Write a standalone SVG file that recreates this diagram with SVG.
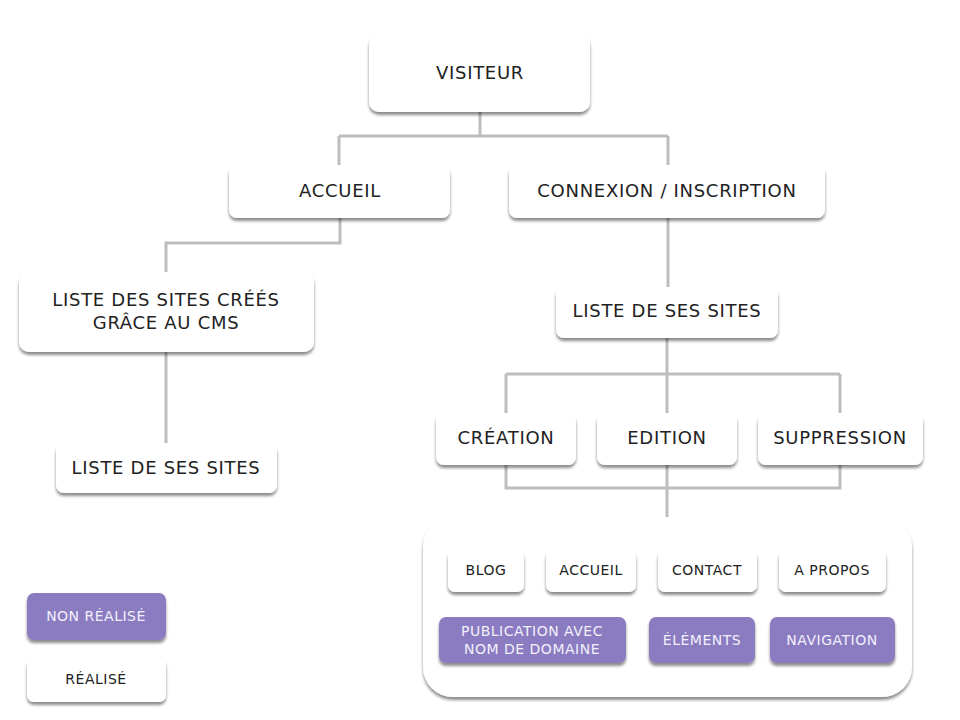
<svg xmlns="http://www.w3.org/2000/svg" width="960" height="720" viewBox="0 0 960 720">
<defs>
<filter id="sh" x="-20%" y="-20%" width="140%" height="160%">
<feDropShadow dx="0" dy="3" stdDeviation="1.8" flood-color="#000" flood-opacity="0.45"/>
</filter>
<style>
.n{fill:#fff;filter:url(#sh)}
.p{fill:#8B7BC2;filter:url(#sh)}
.t{font-family:"DejaVu Sans","Liberation Sans",sans-serif;font-size:18px;letter-spacing:0.7px;fill:#222;text-anchor:middle;dominant-baseline:central}
.s{font-family:"DejaVu Sans","Liberation Sans",sans-serif;font-size:14px;letter-spacing:0.5px;fill:#222;text-anchor:middle;dominant-baseline:central}
.w{fill:#F2F0FA}
.c{fill:none;stroke:#BDBDBD;stroke-width:3}
</style>
</defs>
<rect width="960" height="720" fill="#fff"/>
<g id="connectors" class="c">
<path d="M480 112V136M339 136H668M339 136V165M668 136V165"/>
<path d="M340 218V243H166V272"/>
<path d="M166 352V443"/>
<path d="M668 218V287"/>
<path d="M667 338V413M506 374H840M506 374V413M840 374V413"/>
<path d="M506 465V488H840V465M667 465V517"/>
</g>
<g id="visiteur"><rect class="n" x="369" y="34" width="221" height="78" rx="10"/><text class="t" x="480" y="72">VISITEUR</text></g>
<g id="accueil"><rect class="n" x="229" y="165" width="221" height="53" rx="8"/><text class="t" x="340" y="190">ACCUEIL</text></g>
<g id="connexion"><rect class="n" x="509" y="165" width="316" height="53" rx="8"/><text class="t" x="667" y="190">CONNEXION / INSCRIPTION</text></g>
<g id="liste-cms"><rect class="n" x="19" y="272" width="295" height="80" rx="10"/><text class="t" x="166" y="299">LISTE DES SITES CRÉÉS</text><text class="t" x="166" y="322">GRÂCE AU CMS</text></g>
<g id="liste-sites-left"><rect class="n" x="56" y="443" width="221" height="50" rx="8"/><text class="t" x="166" y="467">LISTE DE SES SITES</text></g>
<g id="liste-sites-right"><rect class="n" x="556" y="287" width="222" height="51" rx="8"/><text class="t" x="667" y="310">LISTE DE SES SITES</text></g>
<g id="creation"><rect class="n" x="436" y="413" width="140" height="52" rx="8"/><text class="t" x="506" y="437">CRÉATION</text></g>
<g id="edition"><rect class="n" x="597" y="413" width="140" height="52" rx="8"/><text class="t" x="667" y="437">EDITION</text></g>
<g id="suppression"><rect class="n" x="758" y="413" width="165" height="52" rx="8"/><text class="t" x="840" y="437">SUPPRESSION</text></g>
<g id="pages">
<rect class="n" x="423" y="517" width="489" height="180" rx="30"/>
<g id="blog"><rect class="n" x="448" y="550" width="76" height="42" rx="7"/><text class="s" x="486" y="570">BLOG</text></g>
<g id="accueil-page"><rect class="n" x="546" y="550" width="90" height="42" rx="7"/><text class="s" x="591" y="570">ACCUEIL</text></g>
<g id="contact"><rect class="n" x="658" y="550" width="99" height="42" rx="7"/><text class="s" x="707" y="570">CONTACT</text></g>
<g id="apropos"><rect class="n" x="779" y="550" width="107" height="42" rx="7"/><text class="s" x="832" y="570">A PROPOS</text></g>
<g id="publication"><rect class="p" x="439" y="617" width="187" height="46" rx="7"/><text class="s w" x="532" y="631">PUBLICATION AVEC</text><text class="s w" x="532" y="649">NOM DE DOMAINE</text></g>
<g id="elements"><rect class="p" x="649" y="617" width="106" height="46" rx="7"/><text class="s w" x="702" y="640">ÉLÉMENTS</text></g>
<g id="navigation"><rect class="p" x="770" y="617" width="125" height="46" rx="7"/><text class="s w" x="832" y="640">NAVIGATION</text></g>
</g>
<g id="legend-non"><rect class="p" x="27" y="593" width="139" height="47" rx="7"/><text class="s w" x="96" y="616">NON RÉALISÉ</text></g>
<g id="legend-oui"><rect class="n" x="27" y="658" width="139" height="44" rx="7"/><text class="s" x="96" y="679">RÉALISÉ</text></g>
</svg>
